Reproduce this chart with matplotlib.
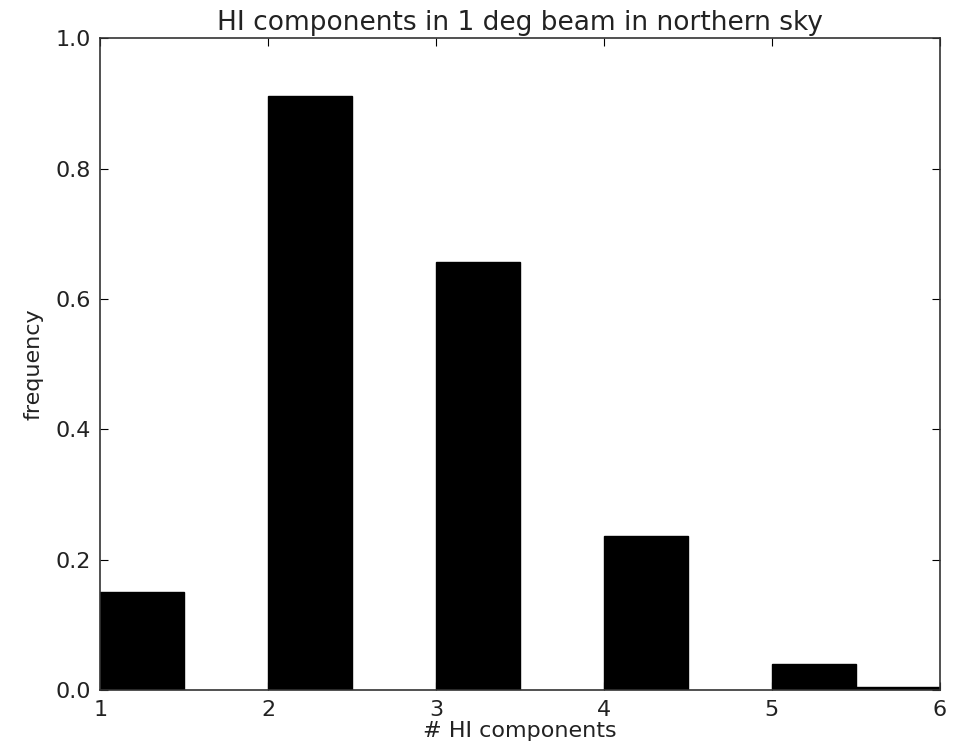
import matplotlib.pyplot as plt

# histogram bins (left edges) and normalised frequencies
bin_left = [1.0, 2.0, 3.0, 4.0, 5.0, 5.5]
frequency = [0.150, 0.911, 0.656, 0.236, 0.040, 0.004]
bin_width = 0.5

fig = plt.figure(figsize=(9.55, 7.48), dpi=100)
ax = fig.add_axes([0.105, 0.0775, 0.879, 0.8715])

ax.bar(bin_left, frequency, width=bin_width, align='edge',
       color='black', edgecolor='black', linewidth=1)

ax.set_xlim(1, 6)
ax.set_ylim(0, 1.0)
ax.set_xticks([1, 2, 3, 4, 5, 6])
ax.set_yticks([0.0, 0.2, 0.4, 0.6, 0.8, 1.0])
ax.set_yticklabels(['0.0', '0.2', '0.4', '0.6', '0.8', '1.0'])

ax.tick_params(direction='in', top=True, right=True, length=6,
               labelsize=16, pad=7, labelcolor='#222222')
for s in ax.spines.values():
    s.set_linewidth(1.2)
    s.set_edgecolor('#333333')

ax.set_title('HI components in 1 deg beam in northern sky', fontsize=19,
             color='#222222', pad=6)
ax.set_xlabel('# HI components', fontsize=16, labelpad=1, color='#222222')
ax.set_ylabel('frequency', fontsize=16, labelpad=8, color='#222222')

fig.savefig('out.png', dpi=100)
